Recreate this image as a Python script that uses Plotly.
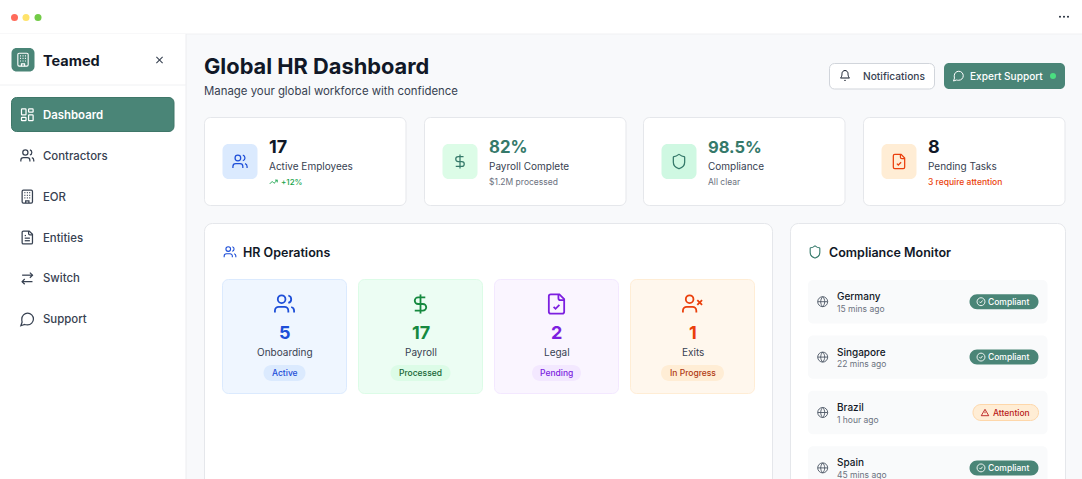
import re
import plotly.graph_objects as go

# text and numbers shown on the dashboard
nav_items = ['Dashboard', 'Contractors', 'EOR', 'Entities', 'Switch', 'Support']
nav_icons = ['dashboard', 'users', 'building', 'file', 'switch', 'message']

kpi_values = ['17', '82%', '98.5%', '8']
kpi_labels = ['Active Employees', 'Payroll Complete', 'Compliance', 'Pending Tasks']
kpi_notes = ['+12%', '$1.2M processed', 'All clear', '3 require attention']
kpi_icons = ['users', 'dollar', 'shield', 'filecheck']

ops_counts = ['5', '17', '2', '1']
ops_labels = ['Onboarding', 'Payroll', 'Legal', 'Exits']
ops_status = ['Active', 'Processed', 'Pending', 'In Progress']
ops_icons = ['users', 'dollar', 'filecheck', 'userx']

countries = ['Germany', 'Singapore', 'Brazil', 'Spain']
checked_at = ['15 mins ago', '22 mins ago', '1 hour ago', '45 mins ago']
country_status = ['Compliant', 'Compliant', 'Attention', 'Compliant']

FONT = 'Inter'
TEAL = '#4A8577'
DARK_TEAL = '#35796A'
INK = '#111827'
BODY = '#374151'
MUTED = '#6B7280'
BORDER = '#E5E7EB'


def circle(cx, cy, r):
    k = r * 0.5523
    return (f'M{cx - r} {cy} C{cx - r} {cy - k} {cx - k} {cy - r} {cx} {cy - r} '
            f'C{cx + k} {cy - r} {cx + r} {cy - k} {cx + r} {cy} '
            f'C{cx + r} {cy + k} {cx + k} {cy + r} {cx} {cy + r} '
            f'C{cx - k} {cy + r} {cx - r} {cy + k} {cx - r} {cy} Z')


def rounded(x0, y0, x1, y1, r):
    k = r * 0.4477
    return (f'M{x0 + r} {y0} L{x1 - r} {y0} C{x1 - k} {y0} {x1} {y0 + k} {x1} {y0 + r} '
            f'L{x1} {y1 - r} C{x1} {y1 - k} {x1 - k} {y1} {x1 - r} {y1} '
            f'L{x0 + r} {y1} C{x0 + k} {y1} {x0} {y1 - k} {x0} {y1 - r} '
            f'L{x0} {y0 + r} C{x0} {y0 + k} {x0 + k} {y0} {x0 + r} {y0} Z')


# icon outlines on a 24x24 grid
PERSON = 'M16 21 L16 19 C16 16.8 14.2 15 12 15 L6 15 C3.8 15 2 16.8 2 19 L2 21'
SHEET = 'M15 2 L6 2 C4.9 2 4 2.9 4 4 L4 20 C4 21.1 4.9 22 6 22 L18 22 C19.1 22 20 21.1 20 20 L20 7 Z'
FOLD = 'M14 2 L14 6 C14 7.1 14.9 8 16 8 L20 8'
ICONS = {
    'users': [circle(9, 7, 4), PERSON,
              'M16 3.13 C17.8 3.6 19 5.2 19 7 C19 8.8 17.8 10.4 16 10.88',
              'M22 21 L22 19 C22 17.2 20.8 15.6 19 15.13'],
    'userx': [circle(9, 7, 4), PERSON, 'M17 8 L22 13', 'M22 8 L17 13'],
    'dollar': ['M12 2 L12 22',
               'M17 5 L9.5 5 C7.6 5 6 6.6 6 8.5 C6 10.4 7.6 12 9.5 12 L14.5 12 '
               'C16.4 12 18 13.6 18 15.5 C18 17.4 16.4 19 14.5 19 L6 19'],
    'shield': ['M20 13 C20 18 16.5 20.5 12.34 21.95 C12.1 22 11.9 22 11.67 21.94 C7.5 20.5 4 18 4 13 '
               'L4 6 C4 5.4 4.4 5 5 5 C7 5 9.5 3.8 11.24 2.28 C11.7 1.9 12.3 1.9 12.76 2.28 '
               'C14.51 3.81 17 5 19 5 C19.6 5 20 5.4 20 6 Z'],
    'filecheck': [SHEET, FOLD, 'M9 15 L11 17 L15 13'],
    'file': [SHEET, FOLD, 'M16 13 L8 13', 'M16 17 L8 17', 'M10 9 L8 9'],
    'dashboard': [rounded(3, 3, 10, 12, 1), rounded(14, 3, 21, 8, 1),
                  rounded(14, 12, 21, 21, 1), rounded(3, 16, 10, 21, 1)],
    'building': [rounded(4, 2, 20, 22, 2), 'M9.5 22 L9.5 18.5 L14.5 18.5 L14.5 22',
                 'M7.5 6 L9 6', 'M11.3 6 L12.8 6', 'M15 6 L16.5 6',
                 'M7.5 10 L9 10', 'M11.3 10 L12.8 10', 'M15 10 L16.5 10',
                 'M7.5 14 L9 14', 'M11.3 14 L12.8 14', 'M15 14 L16.5 14'],
    'switch': ['M16 3 L20 7 L16 11', 'M20 7 L4 7', 'M8 21 L4 17 L8 13', 'M4 17 L20 17'],
    'message': ['M2 22 L7.9 20 C9.3 20.5 10.9 20.5 12.5 20.5 C17.5 20.5 21.5 16.5 21.5 11.5 '
                'C21.5 6.5 17.5 2.5 12.5 2.5 C7.5 2.5 3.5 6.5 3.5 11.5 C3.5 13.2 3.4 14.8 4 16.1 Z'],
    'bell': ['M6 8 C6 4.7 8.7 2 12 2 C15.3 2 18 4.7 18 8 C18 15 21 17 21 17 L3 17 C3 17 6 15 6 8 Z',
             'M10.3 21 C10.6 21.6 11.3 22 12 22 C12.7 22 13.4 21.6 13.7 21'],
    'close': ['M18 6 L6 18', 'M6 6 L18 18'],
    'trend': ['M22 7 L13.5 15.5 L8.5 10.5 L2 17', 'M16 7 L22 7 L22 13'],
    'globe': [circle(12, 12, 10),
              'M12 2 C9.4 4.7 8 8.3 8 12 C8 15.7 9.4 19.3 12 22 C14.6 19.3 16 15.7 16 12 C16 8.3 14.6 4.7 12 2',
              'M2 12 L22 12'],
    'check': [circle(12, 12, 10), 'M8 12 L11 15 L16 9'],
    'alert': ['M12 3.5 L22 20.5 L2 20.5 Z', 'M12 9.5 L12 14', 'M12 17 L12.05 17'],
}

shapes = []
notes = []


def box(x0, y0, x1, y1, r, fill, line=None, lw=1):
    shapes.append(dict(type='path', path=rounded(x0, y0, x1, y1, r), xref='x', yref='y',
                       fillcolor=fill, line=dict(color=line or 'rgba(0,0,0,0)', width=lw if line else 0)))


def icon(name, cx, cy, size, color, lw=None):
    s = size / 24

    def place(path):
        nums = iter(re.findall(r'[A-Z]|-?[\d.]+', path))
        out, is_x = [], True
        for tok in nums:
            if tok.isalpha():
                out.append(tok)
                is_x = True
            else:
                val = cx + (float(tok) - 12) * s if is_x else cy + (float(tok) - 12) * s
                out.append(f'{val:.2f}')
                is_x = not is_x
        return ' '.join(out)

    for path in ICONS[name]:
        shapes.append(dict(type='path', path=place(path), xref='x', yref='y',
                           fillcolor='rgba(0,0,0,0)',
                           line=dict(color=color, width=lw or max(2 * s, 0.8))))


def label(text, x, y, size, color=BODY, weight=400, anchor='left'):
    notes.append(dict(text=text, x=x, y=y, xref='x', yref='y', showarrow=False, xanchor=anchor,
                      yanchor='middle', borderpad=0, borderwidth=0,
                      font=dict(family=FONT, size=size, color=color, weight=weight)))


def dot(cx, cy, r, color):
    shapes.append(dict(type='circle', x0=cx - r, x1=cx + r, y0=cy - r, y1=cy + r, xref='x', yref='y',
                       fillcolor=color, line=dict(width=0)))


def hline(y, x0, x1, color='#F0F1F3'):
    shapes.append(dict(type='line', x0=x0, x1=x1, y0=y, y1=y, xref='x', yref='y',
                       line=dict(color=color, width=1)))


# window chrome
shapes.append(dict(type='rect', x0=0, x1=1082, y0=0, y1=34, xref='x', yref='y', fillcolor='white', line=dict(width=0)))
hline(34, 0, 1082)
dot(14.5, 17.5, 3.5, '#FF6B5B')
dot(26, 17.5, 3.5, '#FFE36B')
dot(38, 17.5, 3.5, '#72CB47')
for dx in (1060, 1064, 1068):
    dot(dx, 16.8, 1, '#1F2937')

# sidebar
shapes.append(dict(type='rect', x0=0, x1=186, y0=34, y1=479, xref='x', yref='y', fillcolor='white', line=dict(width=0)))
shapes.append(dict(type='line', x0=186, x1=186, y0=34, y1=479, xref='x', yref='y', line=dict(color='#ECEDF0', width=1)))
hline(85, 0, 186)
box(11.5, 48, 34.5, 71.5, 5, TEAL)
icon('building', 23, 59.7, 15.5, 'white', 1.1)
label('Teamed', 43.3, 60, 14.5, INK, 700)
icon('close', 159.5, 60, 12.5, '#374151', 1.1)

box(11.5, 97.5, 174, 131.5, 5, TEAL, '#3F7769')
for i, (item, ic) in enumerate(zip(nav_items, nav_icons)):
    ny = 114.8 + i * 40.9
    active = i == 0
    icon(ic, 27.3, ny, 15.5, 'white' if active else '#374151', 1.25)
    label(item, 43.2, ny, 11.4, 'white' if active else BODY, 600 if active else 500)

# page header
label('Global HR Dashboard', 204, 65.5, 21.8, INK, 700)
label('Manage your global workforce with confidence', 204, 90.5, 11.4, BODY)
box(829.5, 63.5, 934.5, 89, 5, 'white', '#D1D5DB')
icon('bell', 845, 75.5, 12, INK, 1)
label('Notifications', 862.5, 76, 10.2, BODY, 500)
box(944, 63, 1065, 89, 5, TEAL)
icon('message', 958.5, 76, 12, 'white', 1)
label('Expert Support', 970.3, 76, 10.1, 'white', 500)
dot(1053, 76, 3, '#4ADE80')

# KPI cards
kpi_left = [204.5, 424.5, 643.5, 863.5]
kpi_tile = ['#DBEAFE', '#DCFCE7', '#CFF8E2', '#FFEDD5']
kpi_ink = ['#1D4ED8', DARK_TEAL, DARK_TEAL, '#EA3F0C']
kpi_value_ink = [INK, DARK_TEAL, DARK_TEAL, INK]
kpi_value_size = [18, 16.8, 16.5, 18]
kpi_note_ink = ['#16A34A', MUTED, MUTED, '#EA3F0C']
for i in range(4):
    x = kpi_left[i]
    box(x, 117.5, x + 201.5, 205.5, 6, 'white', BORDER)
    box(x + 18, 144, x + 53, 179, 6, kpi_tile[i])
    icon(kpi_icons[i], x + 35.5, 161.5, 17, kpi_ink[i], 1.25)
    label(kpi_values[i], x + 64.5, 146.5, kpi_value_size[i], kpi_value_ink[i], 700)
    label(kpi_labels[i], x + 64.5, 165.7, 10, BODY)
    if i == 0:
        icon('trend', x + 69, 182, 9, kpi_note_ink[i], 0.9)
        label(kpi_notes[i], x + 76.5, 182, 8, kpi_note_ink[i], 500)
    else:
        label(kpi_notes[i], x + 64.5, 182, 8.5, kpi_note_ink[i], 500 if i == 3 else 400)

# HR operations panel
box(204.5, 223.5, 772.5, 520, 8, 'white', BORDER)
icon('users', 230, 252, 14, '#1D4ED8', 1.1)
label('HR Operations', 243, 252, 12.5, INK, 600)
ops_left = [222.5, 358.5, 494.5, 630.5]
ops_fill = ['#EFF6FF', '#ECFDF3', '#FAF5FF', '#FFF7ED']
ops_edge = ['#DBEAFE', '#DCFCE7', '#F3E8FF', '#FFEDD5']
ops_ink = ['#1D4ED8', '#16893F', '#7C1FE0', '#EA3F0C']
pill_fill = ['#DBEAFE', '#DCFCE7', '#F3E8FF', '#FFEDD5']
pill_ink = ['#1D4ED8', '#166534', '#7C1FE0', '#B03A12']
pill_width = [42, 60, 49, 63]
for i in range(4):
    x = ops_left[i]
    mid = x + 62
    box(x, 279.5, x + 124, 393.5, 6, ops_fill[i], ops_edge[i])
    icon(ops_icons[i], mid, 304, 23, ops_ink[i], 1.8)
    label(ops_counts[i], mid, 332.5, 18, ops_ink[i], 700, 'center')
    label(ops_labels[i], mid, 352.3, 10, BODY, 400, 'center')
    box(mid - pill_width[i] / 2, 365, mid + pill_width[i] / 2, 381, 8, pill_fill[i])
    label(ops_status[i], mid, 373, 8.5, pill_ink[i], 500, 'center')

# compliance panel
box(790.5, 223.5, 1065.5, 520, 8, 'white', BORDER)
icon('shield', 815, 252, 14.5, DARK_TEAL, 1.1)
label('Compliance Monitor', 829, 252, 12.5, INK, 600)
for i in range(4):
    cy = 301.7 + i * 55.4
    box(808, cy - 21.7, 1047.5, cy + 21.7, 5, '#F9FAFB')
    icon('globe', 822.7, cy, 12, '#4B5563', 0.9)
    label(countries[i], 837.3, cy - 5.5, 10, INK, 500)
    label(checked_at[i], 837.3, cy + 7.2, 8.5, MUTED)
    if country_status[i] == 'Compliant':
        box(969.5, cy - 7.5, 1038.5, cy + 7.5, 7.5, TEAL)
        icon('check', 981, cy, 9.5, 'white', 0.9)
        label(country_status[i], 988.3, cy, 8.5, 'white', 500)
    else:
        box(973, cy - 8, 1038.5, cy + 8, 8, '#FFEDD5', '#FED7AA')
        icon('alert', 985, cy, 9, '#B91C1C', 0.9)
        label(country_status[i], 993, cy, 8.5, '#B91C1C', 500)

fig = go.Figure()
fig.update_layout(
    width=1082, height=479, margin=dict(l=0, r=0, t=0, b=0),
    paper_bgcolor='#F8F9FB', plot_bgcolor='#F8F9FB',
    xaxis=dict(range=[0, 1082], visible=False, fixedrange=True),
    yaxis=dict(range=[479, 0], visible=False, fixedrange=True),
    shapes=shapes, annotations=notes, showlegend=False,
)
fig.write_html('out.html', config=dict(displayModeBar=False),
               post_script="document.body.style.margin='0';document.body.style.overflow='hidden';")
